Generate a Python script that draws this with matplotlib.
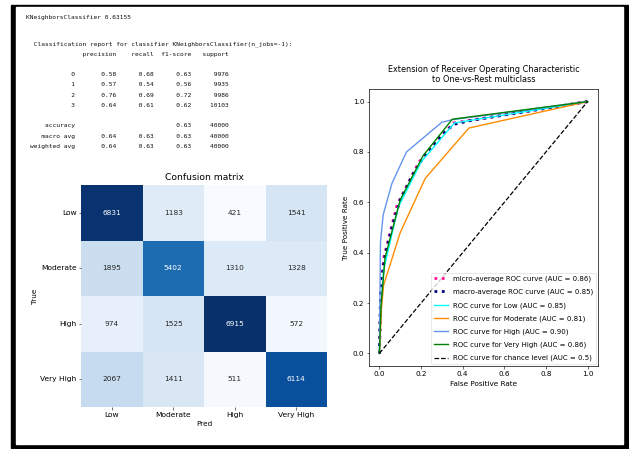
import matplotlib
matplotlib.use("Agg")
import matplotlib.pyplot as plt
import numpy as np
import seaborn as sns
from matplotlib.patches import Rectangle

W, H = 629, 449

# classification summary
model_line = "KNeighborsClassifier 0.63155"
report_title = " Classification report for classifier KNeighborsClassifier(n_jobs=-1):"
report_cols = ["precision", "recall", "f1-score", "support"]
report_rows = ["0", "1", "2", "3"]
precision = [0.58, 0.57, 0.76, 0.64]
recall = [0.68, 0.54, 0.69, 0.61]
f1 = [0.63, 0.56, 0.72, 0.62]
support = [9976, 9935, 9986, 10103]
accuracy = 0.63
macro_avg = [0.64, 0.63, 0.63]
weighted_avg = [0.64, 0.63, 0.63]
total = 40000

# confusion matrix
labels = ["Low", "Moderate", "High", "Very High"]
cm = np.array([
    [6831, 1183, 421, 1541],
    [1895, 5402, 1310, 1328],
    [974, 1525, 6915, 572],
    [2067, 1411, 511, 6114],
])

# ROC curves (fpr, tpr)
micro_fpr = [0.0, 0.007, 0.021, 0.085, 0.19, 0.355, 1.0]
micro_tpr = [0.0, 0.24, 0.38, 0.59, 0.76, 0.915, 1.0]
macro_fpr = [0.0, 0.005, 0.019, 0.03, 0.06, 0.10, 0.16, 0.22, 0.30, 0.36, 0.44, 1.0]
macro_tpr = [0.0, 0.23, 0.35, 0.40, 0.50, 0.61, 0.71, 0.79, 0.87, 0.91, 0.925, 1.0]
class_fpr = [
    [0.0, 0.005, 0.02, 0.09, 0.20, 0.36, 1.0],
    [0.0, 0.01, 0.02, 0.10, 0.22, 0.43, 1.0],
    [0.0, 0.005, 0.018, 0.06, 0.13, 0.30, 0.35, 1.0],
    [0.0, 0.008, 0.027, 0.10, 0.21, 0.35, 1.0],
]
class_tpr = [
    [0.0, 0.15, 0.33, 0.58, 0.76, 0.915, 1.0],
    [0.0, 0.18, 0.27, 0.48, 0.695, 0.895, 1.0],
    [0.0, 0.44, 0.55, 0.675, 0.80, 0.918, 0.928, 1.0],
    [0.0, 0.19, 0.38, 0.61, 0.785, 0.93, 1.0],
]
class_auc = [0.85, 0.81, 0.90, 0.86]
micro_auc, macro_auc = 0.86, 0.85
colors = ["aqua", "darkorange", "cornflowerblue", "green"]


def fx(px):
    return px / W


def fy(py):
    return 1 - py / H


plt.rcParams["font.size"] = 5.2
fig = plt.figure(figsize=(W / 100, H / 100), dpi=100)

# black frame around the output cell
fig.patches.append(Rectangle((fx(11), fy(448)), fx(628) - fx(11), fy(5) - fy(448),
                             transform=fig.transFigure, color="black", zorder=-2))
fig.patches.append(Rectangle((fx(16), fy(444)), fx(623) - fx(16), fy(7) - fy(444),
                             transform=fig.transFigure, color="white", zorder=-1))

mono = dict(family="DejaVu Sans Mono", fontsize=4.5, color="#111111", va="center")
fig.text(fx(26), fy(18), model_line, **mono)

lines = [report_title,
         " " * 13 + "".join(f" {c:>9}" for c in report_cols),
         ""]
for r, p, rc, f, s in zip(report_rows, precision, recall, f1, support):
    lines.append(f"{r:>12} " + "".join(f" {v:>9.2f}" for v in (p, rc, f)) + f" {s:>9}")
lines.append("")
lines.append(f"{'accuracy':>12} " + " " * 20 + f" {accuracy:>9.2f} {total:>9}")
lines.append(f"{'macro avg':>12} " + "".join(f" {v:>9.2f}" for v in macro_avg) + f" {total:>9}")
lines.append(f"{'weighted avg':>12} " + "".join(f" {v:>9.2f}" for v in weighted_avg) + f" {total:>9}")
for i, line in enumerate(lines):
    fig.text(fx(30), fy(44 + i * 10.25), line, **mono)

# confusion matrix heatmap
ax1 = fig.add_axes([fx(81), fy(407), fx(327) - fx(81), fy(185) - fy(407)])
sns.heatmap(cm, annot=True, fmt="d", cmap="Blues", cbar=False, ax=ax1,
            xticklabels=labels, yticklabels=labels, annot_kws={"size": 5.3})
ax1.set_title("Confusion matrix", fontsize=6.6, pad=3.5)
ax1.set_xlabel("Pred", labelpad=2.5)
ax1.set_ylabel("True", labelpad=1.5)
ax1.tick_params(labelsize=5.4, length=1.8, width=0.4, pad=1.5)
plt.setp(ax1.get_yticklabels(), rotation=0)

# ROC curves
ax2 = fig.add_axes([fx(369), fy(366), fx(598) - fx(369), fy(89) - fy(366)])
ax2.plot(micro_fpr, micro_tpr, color="deeppink", linestyle=":", linewidth=2,
         label=f"micro-average ROC curve (AUC = {micro_auc:.2f})")
ax2.plot(macro_fpr, macro_tpr, color="navy", linestyle=":", linewidth=2,
         label=f"macro-average ROC curve (AUC = {macro_auc:.2f})")
for name, fp, tp, auc, c in zip(labels, class_fpr, class_tpr, class_auc, colors):
    ax2.plot(fp, tp, color=c, linewidth=1.0, label=f"ROC curve for {name} (AUC = {auc:.2f})")
ax2.plot([0, 1], [0, 1], "k--", linewidth=0.9, label="ROC curve for chance level (AUC = 0.5)")
ax2.set_xlim(-0.05, 1.05)
ax2.set_ylim(-0.05, 1.05)
ax2.set_xlabel("False Positive Rate", labelpad=3)
ax2.set_ylabel("True Positive Rate", labelpad=3)
ax2.set_title("Extension of Receiver Operating Characteristic\nto One-vs-Rest multiclass",
              fontsize=5.9, pad=5)
ax2.tick_params(length=1.8, width=0.4, pad=1.5)
for s in ax2.spines.values():
    s.set_linewidth(0.5)
leg = ax2.legend(loc="lower right", fontsize=5.0, handlelength=2.0,
                 labelspacing=0.97, borderaxespad=0.25)
leg.get_frame().set_linewidth(0.4)

fig.savefig("out.png", dpi=100)
